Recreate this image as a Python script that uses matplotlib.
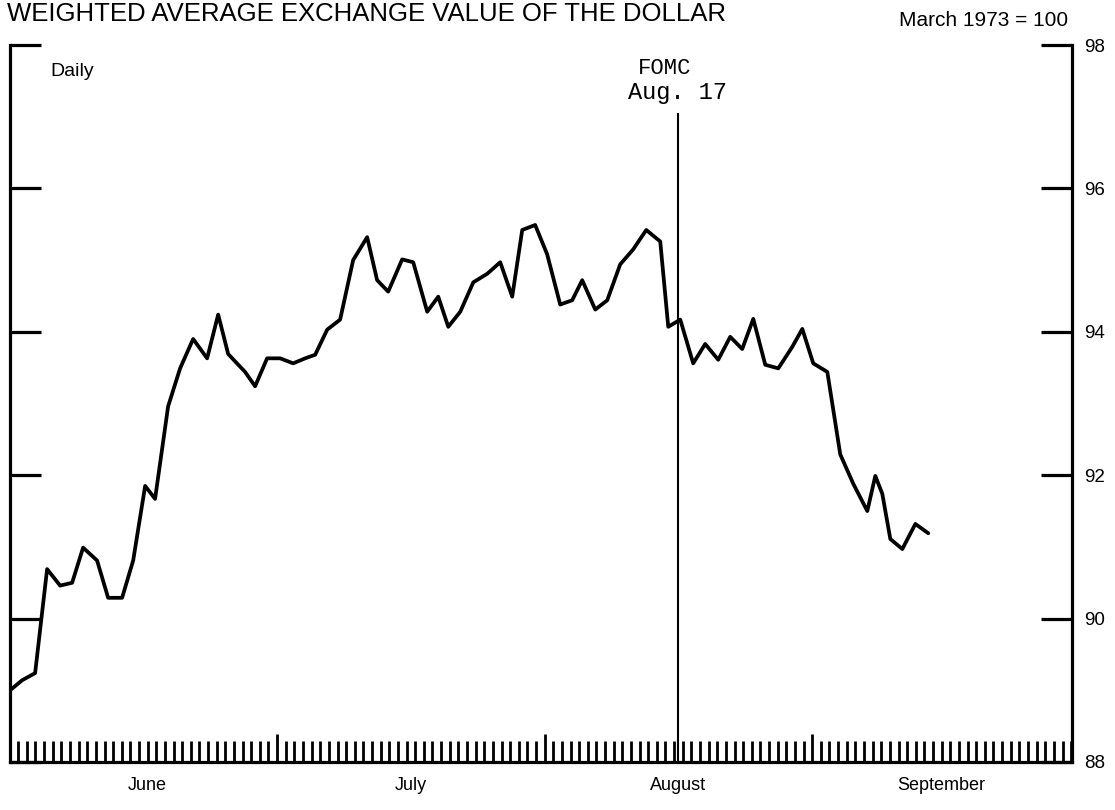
import matplotlib
matplotlib.use("Agg")
import matplotlib.pyplot as plt
from matplotlib.ticker import FixedLocator

# ---- data ----
# position in days after May 31 (June 1 = 0, July 1 = 30, Aug 1 = 61, Sep 1 = 92)
day_pos = [-0.94, 0.45, 1.96, 3.35, 4.86, 6.25, 7.52, 9.14, 10.42, 12.04,
           13.32, 14.71, 15.86, 17.37, 18.76, 20.27, 21.89, 23.17, 24.33, 26.29,
           27.45, 28.84, 30.35, 31.86, 33.25, 34.41, 35.80, 37.30, 38.81, 40.43,
           41.59, 42.87, 44.49, 45.77, 47.39, 48.67, 49.83, 51.22, 52.73, 54.35,
           55.85, 57.24, 58.40, 59.90, 61.29, 62.80, 64.19, 65.35, 66.86, 68.25,
           69.75, 71.26, 72.77, 74.39, 75.32, 76.71, 78.21, 79.60, 81.11, 82.50,
           83.89, 85.17, 86.56, 88.07, 89.69, 90.85, 92.12, 93.75, 95.25, 96.76,
           98.38, 99.31, 100.12, 101.05, 102.44, 103.95, 105.45]
index_value = [89.00, 89.14, 89.24, 90.69, 90.46, 90.50, 90.99, 90.81, 90.29, 90.29,
               90.81, 91.85, 91.67, 92.96, 93.49, 93.90, 93.63, 94.24, 93.69, 93.44,
               93.24, 93.63, 93.63, 93.56, 93.63, 93.68, 94.03, 94.17, 95.00, 95.32,
               94.72, 94.56, 95.01, 94.97, 94.28, 94.49, 94.07, 94.28, 94.69, 94.81,
               94.97, 94.49, 95.42, 95.49, 95.08, 94.38, 94.44, 94.72, 94.31, 94.44,
               94.94, 95.15, 95.42, 95.26, 94.07, 94.17, 93.56, 93.83, 93.61, 93.93,
               93.76, 94.18, 93.54, 93.49, 93.79, 94.04, 93.56, 93.44, 92.29, 91.88,
               91.50, 91.99, 91.74, 91.11, 90.97, 91.32, 91.19]

month_labels = ["June", "July", "August", "September"]
month_starts = [0, 30, 61, 92, 122]
y_ticks = [88, 90, 92, 94, 96, 98]
fomc_day = 76.4
fomc_top = 97.05

title = "WEIGHTED AVERAGE EXCHANGE VALUE OF THE DOLLAR"
base_note = "March 1973 = 100"
freq_note = "Daily"

plt.rcParams['font.family'] = ['Liberation Sans', 'DejaVu Sans']

W, H = 1115, 810
fig = plt.figure(figsize=(W / 100, H / 100), dpi=100)
ax = fig.add_axes([10 / W, 48 / H, (1072 - 10) / W, (765 - 48) / H])

ax.plot(day_pos, index_value, color='black', lw=2.7, solid_joinstyle='round',
        solid_capstyle='round')
ax.vlines(fomc_day, y_ticks[0], fomc_top, color='black', lw=1.5)

ax.set_xlim(-0.95, 122.1)
ax.set_ylim(y_ticks[0], y_ticks[-1])

for s in ['left', 'right', 'bottom']:
    ax.spines[s].set_linewidth(2.3)
ax.spines['top'].set_visible(False)

ax.set_yticks(y_ticks)
ax.set_yticklabels([str(v) for v in y_ticks])
ax.tick_params(axis='y', direction='in', length=22, width=2.3, left=True, right=True,
               labelleft=False, labelright=True, labelsize=13.5, pad=9)

ax.xaxis.set_major_locator(FixedLocator(month_starts[1:-1]))
ax.xaxis.set_minor_locator(FixedLocator(list(range(month_starts[0], month_starts[-1] + 1))))
ax.tick_params(axis='x', which='major', direction='in', length=20, width=2.0,
               labelbottom=False)
ax.tick_params(axis='x', which='minor', direction='in', length=15, width=2.0)

xtr = ax.get_xaxis_transform()
for lab, a, b in zip(month_labels, month_starts[:-1], month_starts[1:]):
    ax.text((a + b) / 2, -0.033, lab, transform=xtr, ha='center', va='center',
            fontsize=13)

mono = ['Liberation Mono', 'DejaVu Sans Mono']
ax.text(fomc_day, fomc_top + 0.2, "Aug. 17", ha='center', va='baseline',
        family=mono, fontsize=17)
ax.text(fomc_day - 1.5, fomc_top + 0.55, "FOMC", ha='center', va='baseline',
        family=mono, fontsize=16)

fig.text(7 / W, 1 - 21 / H, title, ha='left', va='baseline', fontsize=18.5)
fig.text(1068 / W, 1 - 20 / H, base_note, ha='right', va='center', fontsize=15)
fig.text(50 / W, 1 - 76 / H, freq_note, ha='left', va='baseline', fontsize=14)

fig.savefig("out.png", dpi=100)
